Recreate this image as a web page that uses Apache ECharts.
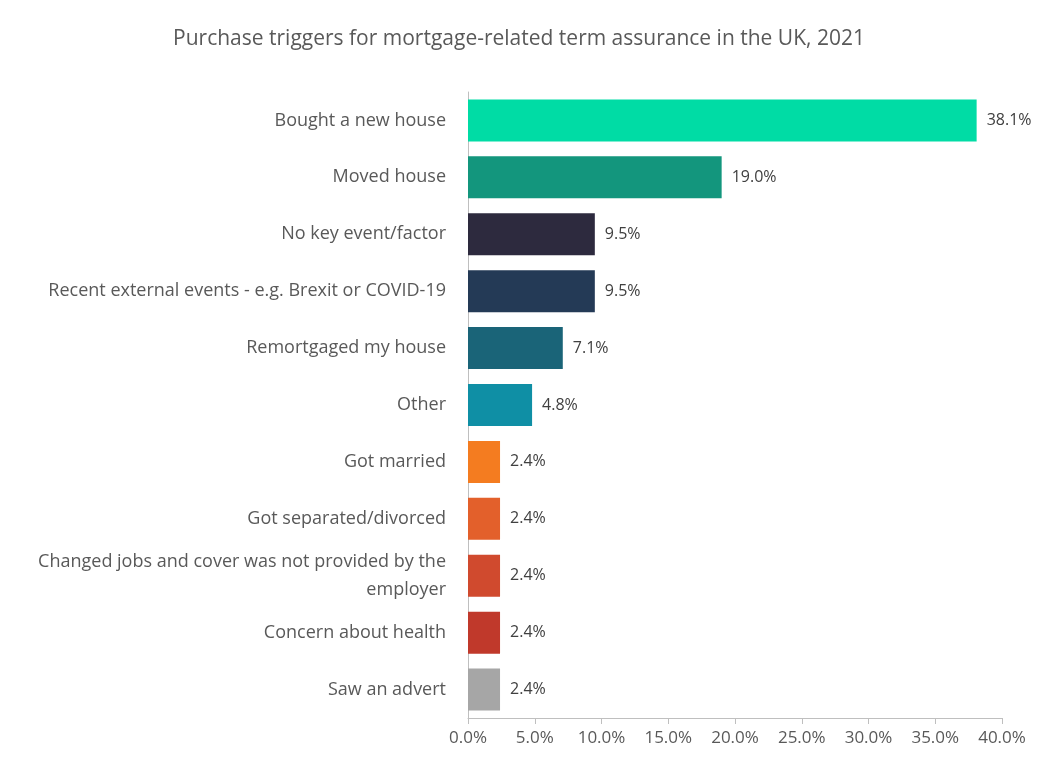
<!DOCTYPE html>
<html lang="en">
<head>
<meta charset="UTF-8">
<title>Purchase triggers</title>
<script src="https://cdn.jsdelivr.net/npm/echarts@6/dist/echarts.min.js"></script>
<style>body{margin:0;background:#fff}#chart{width:1038px;height:778px}</style>
</head>
<body>
<div id="chart"></div>
<script>
var categories = ['Bought a new house', 'Moved house', 'No key event/factor',
    'Recent external events - e.g. Brexit or COVID-19', 'Remortgaged my house', 'Other',
    'Got married', 'Got separated/divorced',
    'Changed jobs and cover was not provided by the\nemployer', 'Concern about health', 'Saw an advert'];
var values = [38.1, 19.0, 9.5, 9.5, 7.1, 4.8, 2.4, 2.4, 2.4, 2.4, 2.4];
var colors = ['#00DCA5', '#13967D', '#2D2A3E', '#243A56', '#1A6478', '#0F8FA5',
    '#F47C20', '#E3602B', '#D04A2E', '#C0392B', '#A6A6A6'];

var data = values.map(function (v, i) {
    return {value: v, itemStyle: {color: colors[i]}};
});

var option = {
    title: {
        text: 'Purchase triggers for mortgage-related term assurance in the UK, 2021',
        left: 'center', top: 24,
        textStyle: {fontFamily: 'Open Sans', fontSize: 21, fontWeight: 'normal', color: '#595959'}
    },
    grid: {left: 468, right: 36, top: 92, bottom: 60},
    xAxis: {
        type: 'value', min: 0, max: 40, interval: 5,
        axisLine: {show: true, lineStyle: {color: '#bfbfbf'}},
        axisTick: {show: true, length: 6, lineStyle: {color: '#bfbfbf'}},
        splitLine: {show: false},
        axisLabel: {formatter: function (v) { return v.toFixed(1) + '%'; },
            fontFamily: 'Open Sans', fontSize: 17, color: '#595959', margin: 12}
    },
    yAxis: {
        type: 'category', inverse: true, data: categories,
        axisLine: {show: true, lineStyle: {color: '#bfbfbf'}},
        axisTick: {show: false},
        axisLabel: {fontFamily: 'Open Sans', fontSize: 18, color: '#595959', margin: 22, lineHeight: 28}
    },
    series: [{
        type: 'bar', data: data, barWidth: 42,
        label: {show: true, position: 'right', distance: 10,
            formatter: function (p) { return p.value.toFixed(1) + '%'; },
            fontFamily: 'Open Sans', fontSize: 16, color: '#404040'}
    }]
};
echarts.init(document.getElementById('chart')).setOption(option);
</script>
</body>
</html>
